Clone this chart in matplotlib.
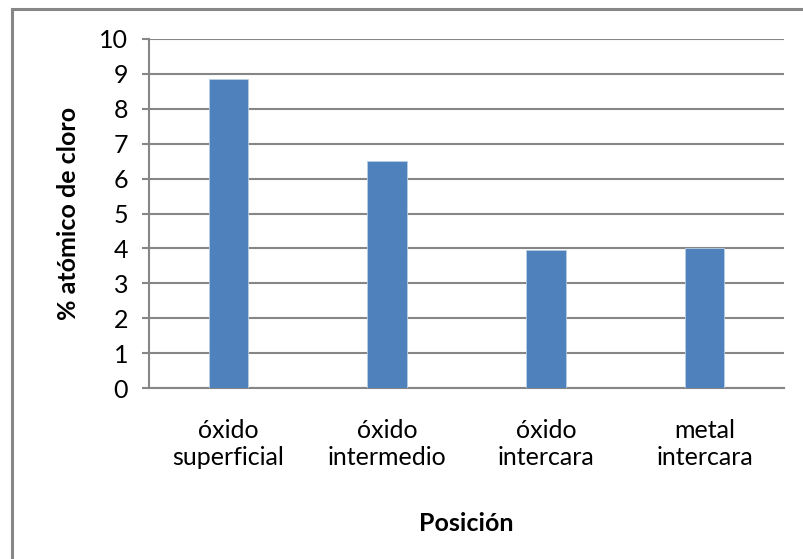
import matplotlib.pyplot as plt
from matplotlib.patches import Rectangle

plt.rcParams['font.family'] = ['Lato', 'DejaVu Sans']

posiciones = ['óxido\nsuperficial', 'óxido\nintermedio', 'óxido\nintercara', 'metal\nintercara']
cloro = [8.84, 6.5, 3.95, 4.02]

GRIS = '#868686'
AZUL = '#4F81BD'

fig = plt.figure(figsize=(8.04, 5.59), dpi=100)
ax = fig.add_axes([149 / 804, 1 - 388 / 559, 635 / 804, 349 / 559])

x = range(len(posiciones))
ax.bar(x, cloro, width=0.25, color=AZUL, edgecolor='#B9CDE5', linewidth=0.6, zorder=3)

ax.set_xlim(-0.5, len(posiciones) - 0.5)
ax.set_ylim(0, 10)
ax.set_yticks(range(0, 11))
ax.set_xticks(list(x))
ax.set_xticklabels(posiciones, fontsize=18, linespacing=1.25)

ax.yaxis.grid(True, color=GRIS, linewidth=1.5, zorder=0)
for s in ['top', 'right']:
    ax.spines[s].set_visible(False)
for s in ['left', 'bottom']:
    ax.spines[s].set_color(GRIS)
    ax.spines[s].set_linewidth(1.5)

ax.tick_params(axis='y', length=5, width=1.5, color=GRIS, labelsize=18, pad=10)
ax.tick_params(axis='x', length=0, pad=22)

ax.set_ylabel('% atómico de cloro', fontsize=18, fontweight='bold', labelpad=14)
ax.set_xlabel('Posición', fontsize=18, fontweight='bold', labelpad=31)

# marco exterior del gráfico
fig.patches.append(Rectangle((12 / 804, -0.1), 1.0, 1 - 9 / 559 + 0.1,
                             transform=fig.transFigure, fill=False,
                             edgecolor=GRIS, linewidth=2.2))

fig.savefig('out.png', dpi=100)
